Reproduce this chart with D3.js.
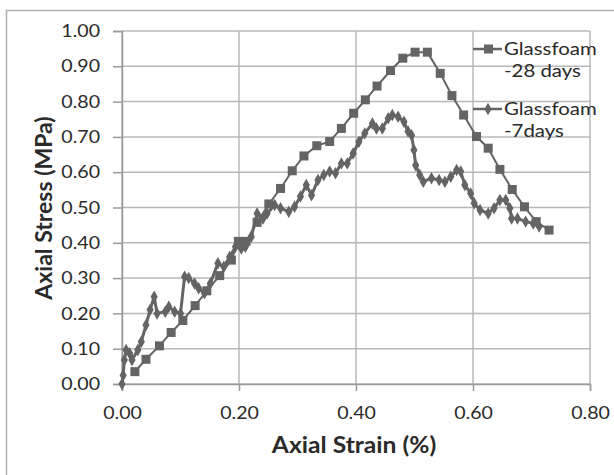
<!DOCTYPE html>
<html>
<head>
<meta charset="utf-8">
<script src="https://cdn.jsdelivr.net/npm/d3@7"></script>
<style>
  body { margin: 0; background: #fff; }
  svg { display: block; font-family: Lato, "Open Sans", sans-serif; }
</style>
</head>
<body>
<svg id="chart" width="614" height="475"></svg>
<script>
// Glassfoam -28 days (square markers)
const strain28 = [0.022, 0.041, 0.064, 0.084, 0.104, 0.125, 0.145, 0.167, 0.187, 0.199, 0.212, 0.231, 0.251, 0.271, 0.291, 0.311, 0.333, 0.355, 0.375, 0.396, 0.416, 0.436, 0.459, 0.480, 0.501, 0.522, 0.544, 0.564, 0.584, 0.606, 0.626, 0.646, 0.667, 0.688, 0.708, 0.730];
const stress28 = [0.035, 0.070, 0.108, 0.146, 0.180, 0.222, 0.264, 0.307, 0.351, 0.404, 0.404, 0.458, 0.510, 0.554, 0.604, 0.646, 0.675, 0.687, 0.724, 0.767, 0.805, 0.844, 0.888, 0.923, 0.940, 0.940, 0.880, 0.817, 0.762, 0.701, 0.668, 0.608, 0.551, 0.502, 0.460, 0.436];

// Glassfoam -7days (diamond markers)
const strain7 = [0.000, 0.002, 0.004, 0.007, 0.013, 0.017, 0.027, 0.033, 0.041, 0.048, 0.055, 0.060, 0.074, 0.080, 0.090, 0.100, 0.107, 0.114, 0.124, 0.131, 0.141, 0.151, 0.164, 0.174, 0.184, 0.194, 0.204, 0.211, 0.221, 0.231, 0.241, 0.248, 0.261, 0.271, 0.285, 0.295, 0.305, 0.315, 0.324, 0.335, 0.345, 0.355, 0.365, 0.375, 0.385, 0.395, 0.405, 0.415, 0.428, 0.435, 0.445, 0.455, 0.462, 0.472, 0.482, 0.489, 0.495, 0.499, 0.502, 0.509, 0.515, 0.529, 0.542, 0.552, 0.562, 0.572, 0.579, 0.586, 0.596, 0.602, 0.612, 0.626, 0.636, 0.646, 0.656, 0.663, 0.666, 0.676, 0.690, 0.703, 0.713];
const stress7 = [0.000, 0.025, 0.068, 0.096, 0.087, 0.068, 0.096, 0.120, 0.167, 0.210, 0.247, 0.200, 0.205, 0.219, 0.205, 0.200, 0.304, 0.300, 0.285, 0.271, 0.257, 0.285, 0.342, 0.332, 0.360, 0.389, 0.384, 0.389, 0.417, 0.483, 0.469, 0.483, 0.507, 0.498, 0.488, 0.502, 0.531, 0.564, 0.535, 0.578, 0.592, 0.602, 0.597, 0.625, 0.625, 0.653, 0.686, 0.710, 0.738, 0.724, 0.724, 0.753, 0.762, 0.757, 0.743, 0.715, 0.705, 0.663, 0.620, 0.592, 0.573, 0.583, 0.578, 0.573, 0.587, 0.606, 0.602, 0.564, 0.540, 0.512, 0.493, 0.483, 0.498, 0.521, 0.521, 0.498, 0.469, 0.469, 0.460, 0.455, 0.446];

const xTicks = [0, 0.2, 0.4, 0.6, 0.8];
const yTicks = [0, 0.1, 0.2, 0.3, 0.4, 0.5, 0.6, 0.7, 0.8, 0.9, 1.0];
const seriesNames = ["Glassfoam -28 days", "Glassfoam -7days"];

const svg = d3.select("#chart");
const margin = {left: 122, right: 24, top: 31, bottom: 91};
const width = 614 - margin.left - margin.right;
const height = 475 - margin.top - margin.bottom;

const gridColor = "#b8b8b8";
const lineColor = "#646464";
const textColor = "#2a2a2a";
const stretch = "scale(1.12,1)"; // the source picture is a bit wider than tall

// outer frame
svg.append("path")
    .attr("d", "M6.5,475 V10.5 H614")
    .attr("fill", "none")
    .attr("stroke", "#b0b0b0")
    .attr("stroke-width", 1.5);

const x = d3.scaleLinear().domain([0, 0.8]).range([0, width]);
const y = d3.scaleLinear().domain([0, 1]).range([height, 0]);

const g = svg.append("g").attr("transform", "translate(" + margin.left + "," + margin.top + ")");

// gridlines
g.append("g").selectAll("line")
    .data(yTicks)
    .enter().append("line")
    .attr("x1", 0).attr("x2", width)
    .attr("y1", function(d) { return y(d); })
    .attr("y2", function(d) { return y(d); })
    .attr("stroke", gridColor)
    .attr("stroke-width", 1.5);

g.append("g").selectAll("line")
    .data(xTicks)
    .enter().append("line")
    .attr("x1", function(d) { return x(d); })
    .attr("x2", function(d) { return x(d); })
    .attr("y1", 0).attr("y2", height)
    .attr("stroke", gridColor)
    .attr("stroke-width", 1.5);

// axes
const xAxis = g.append("g")
    .attr("transform", "translate(0," + height + ")")
    .call(d3.axisBottom(x).tickValues(xTicks).tickFormat(d3.format(".2f")).tickSize(7).tickPadding(16));
const yAxis = g.append("g")
    .call(d3.axisLeft(y).tickValues(yTicks).tickFormat(d3.format(".2f")).tickSize(9).tickPadding(13));

[xAxis, yAxis].forEach(function(a) {
    a.select(".domain").attr("stroke", "#9a9a9a").attr("stroke-width", 1.5);
    a.selectAll(".tick line").attr("stroke", "#9a9a9a").attr("stroke-width", 1.5);
    a.selectAll(".tick text")
        .attr("fill", textColor)
        .style("font-size", "17.5px")
        .style("font-family", "Lato, sans-serif");
});
xAxis.selectAll(".tick text").attr("transform", stretch);
yAxis.selectAll(".tick text")
    .attr("x", 0)
    .attr("transform", "translate(-22,0) " + stretch);

// series
const data28 = strain28.map(function(s, i) { return [s, stress28[i]]; });
const data7 = strain7.map(function(s, i) { return [s, stress7[i]]; });

const line = d3.line()
    .x(function(d) { return x(d[0]); })
    .y(function(d) { return y(d[1]); });

g.append("path")
    .datum(data7)
    .attr("fill", "none")
    .attr("stroke", lineColor)
    .attr("stroke-width", 3)
    .attr("stroke-linejoin", "round")
    .attr("d", line);

g.append("g").selectAll("path")
    .data(data7)
    .enter().append("path")
    .attr("d", d3.symbol().type(d3.symbolDiamond).size(45))
    .attr("transform", function(d) { return "translate(" + x(d[0]) + "," + y(d[1]) + ")"; })
    .attr("fill", lineColor);

g.append("path")
    .datum(data28)
    .attr("fill", "none")
    .attr("stroke", lineColor)
    .attr("stroke-width", 2)
    .attr("d", line);

g.append("g").selectAll("rect")
    .data(data28)
    .enter().append("rect")
    .attr("x", function(d) { return x(d[0]) - 4.5; })
    .attr("y", function(d) { return y(d[1]) - 4.5; })
    .attr("width", 9)
    .attr("height", 9)
    .attr("fill", lineColor);

// legend
const legend = svg.append("g").attr("transform", "translate(473,49)");
const legendRows = [
    {name: seriesNames[0], dy: 0, marker: "square"},
    {name: seriesNames[1], dy: 60, marker: "diamond"}
];
legendRows.forEach(function(r) {
    const row = legend.append("g").attr("transform", "translate(0," + r.dy + ")");
    row.append("line")
        .attr("x1", 0).attr("x2", 29)
        .attr("y1", 0).attr("y2", 0)
        .attr("stroke", lineColor)
        .attr("stroke-width", 2.5);
    if (r.marker === "square") {
        row.append("rect").attr("x", 11).attr("y", -4.5).attr("width", 9).attr("height", 9).attr("fill", lineColor);
    } else {
        row.append("path").attr("d", d3.symbol().type(d3.symbolDiamond).size(45)).attr("transform", "translate(15,0)").attr("fill", lineColor);
    }
    const parts = r.name.split(" -");
    const t = row.append("text")
        .attr("transform", "translate(31,0) scale(1.2,1)")
        .attr("y", 6)
        .attr("fill", textColor)
        .style("font-size", "17px");
    t.append("tspan").attr("x", 0).text(parts[0]);
    t.append("tspan").attr("x", 0).attr("dy", 22).text("-" + parts[1]);
});

// axis titles
svg.append("text")
    .attr("transform", "translate(354,453) " + stretch)
    .attr("text-anchor", "middle")
    .attr("fill", textColor)
    .style("font-size", "22px")
    .style("font-weight", "bold")
    .text("Axial Strain (%)");

svg.append("text")
    .attr("transform", "translate(52,208) rotate(-90)")
    .attr("text-anchor", "middle")
    .attr("fill", textColor)
    .style("font-size", "23px")
    .style("font-weight", "bold")
    .text("Axial Stress (MPa)");
</script>
</body>
</html>
